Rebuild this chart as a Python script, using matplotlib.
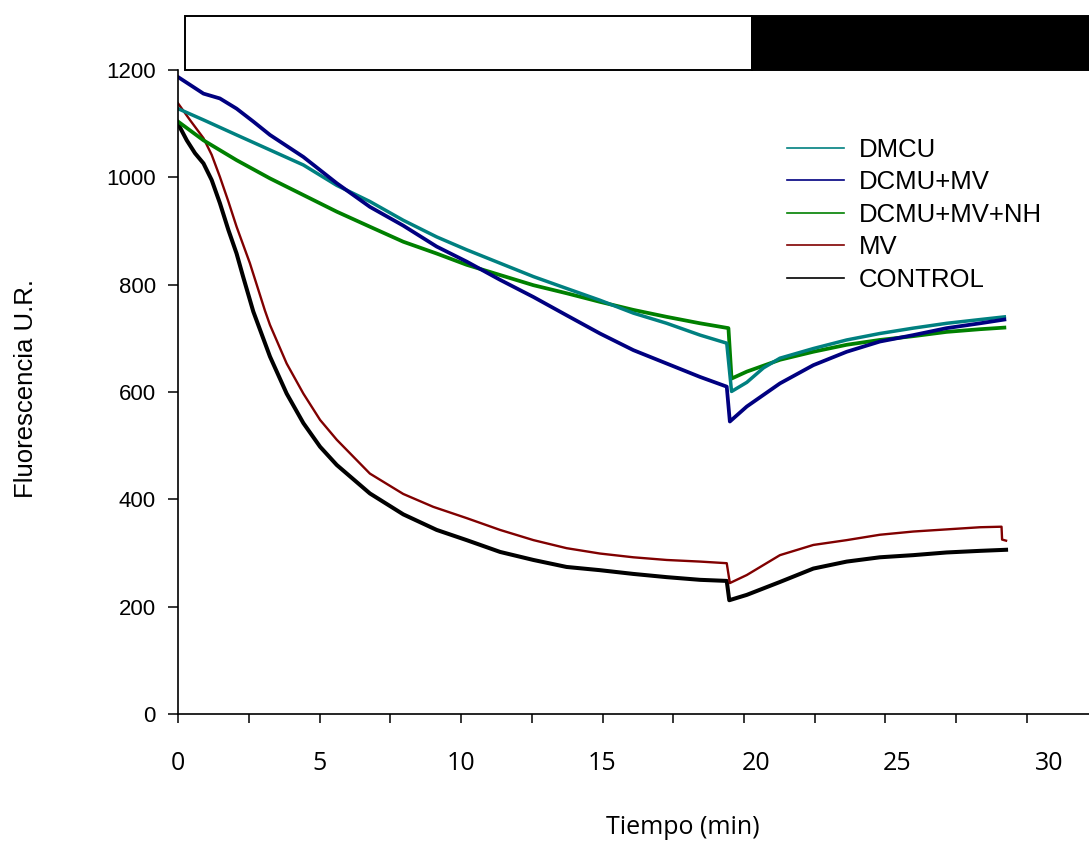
import matplotlib
matplotlib.use("Agg")
import matplotlib.pyplot as plt
from matplotlib.patches import Rectangle
from matplotlib.transforms import ScaledTranslation

# =====================================================
# Data
# =====================================================

dmcu_t = [0, 0.9, 2.07, 3.25, 4.43, 5.61, 6.78, 7.96, 9.14, 10.2, 11.38, 12.56,
          13.73, 14.91, 16.09, 17.27, 18.45, 19.39, 19.56, 20.1, 20.69, 21.27,
          22.45, 23.63, 24.8, 25.98, 27.16, 28.34, 29.2]
dmcu_v = [1128, 1107, 1079, 1051, 1023, 985, 955, 920, 889, 865, 840, 815,
          793, 771, 747, 728, 706, 691, 601, 618, 645, 663,
          681, 697, 709, 719, 728, 735, 740]

dcmu_mv_t = [0, 0.9, 1.48, 2.07, 2.66, 3.25, 4.43, 5.61, 6.78, 7.96, 9.14, 10.2,
             11.38, 12.56, 13.73, 14.91, 16.09, 17.27, 18.45, 19.39, 19.5, 20.1,
             21.27, 22.45, 23.63, 24.8, 25.98, 27.16, 28.34, 29.2]
dcmu_mv_v = [1187, 1156, 1147, 1128, 1104, 1079, 1038, 989, 945, 910, 871, 843,
             809, 777, 743, 709, 678, 653, 628, 610, 545, 573,
             616, 650, 675, 694, 706, 719, 728, 735]

dcmu_mv_nh_t = [0, 0.9, 2.07, 3.25, 4.43, 5.61, 6.78, 7.96, 9.14, 10.2, 11.38,
                12.56, 13.73, 14.91, 16.09, 17.27, 18.45, 19.45, 19.56, 20.1,
                21.27, 22.45, 23.63, 24.8, 25.98, 27.16, 28.34, 29.2]
dcmu_mv_nh_v = [1104, 1069, 1032, 998, 967, 936, 908, 880, 858, 837, 818,
                799, 784, 768, 753, 740, 728, 719, 625, 638,
                660, 675, 688, 697, 704, 712, 717, 720]

mv_t = [0, 0.42, 0.9, 1.19, 1.48, 1.78, 2.07, 2.54, 3.07, 3.25, 3.84, 4.43,
        5.02, 5.61, 6.78, 7.96, 9.02, 10.2, 11.38, 12.56, 13.73, 14.91, 16.09,
        17.27, 18.45, 19.39, 19.5, 20.1, 21.27, 22.45, 23.63, 24.8, 25.98,
        27.16, 28.34, 29.1, 29.12, 29.26]
mv_v = [1138, 1107, 1073, 1042, 1001, 955, 908, 840, 752, 725, 653, 597,
        548, 511, 448, 410, 386, 365, 343, 324, 309, 299, 292,
        287, 284, 281, 244, 259, 296, 315, 324, 334, 340,
        344, 348, 349, 325, 323]

control_t = [0, 0.31, 0.6, 0.9, 1.19, 1.48, 1.78, 2.07, 2.3, 2.66, 3.25, 3.84,
             4.43, 5.02, 5.61, 6.78, 7.96, 9.14, 10.2, 11.38, 12.56, 13.73,
             14.91, 16.09, 17.27, 18.45, 19.39, 19.48, 20.1, 21.27, 22.45,
             23.63, 24.8, 25.98, 27.16, 28.34, 29.26]
control_v = [1100, 1069, 1045, 1026, 995, 952, 902, 858, 815, 750, 666, 597,
             542, 498, 464, 411, 372, 343, 324, 302, 287, 274,
             268, 261, 255, 250, 248, 212, 222, 246, 271,
             284, 292, 296, 301, 304, 306]

labels = ["DMCU", "DCMU+MV", "DCMU+MV+NH", "MV", "CONTROL"]
colors = ["#008080", "#000080", "#008000", "#800000", "#000000"]

x_ticks = [0, 2.5, 5, 7.5, 10, 12.5, 15, 17.5, 20, 22.5, 25, 27.5, 30]
x_tick_labels = ["0", "", "5", "", "10", "", "15", "", "20", "", "25", "", "30"]
y_ticks = [0, 200, 400, 600, 800, 1000, 1200]

light_period = (0.25, 20.28)
dark_start = 20.28

# =====================================================
# Figure
# =====================================================

fig = plt.figure(figsize=(10.89, 8.44), dpi=100)

ax = fig.add_axes([178 / 1089, 130 / 844, 911 / 1089, 644 / 844])

series = [
    (dmcu_t, dmcu_v, 2.5),
    (dcmu_mv_t, dcmu_mv_v, 2.7),
    (dcmu_mv_nh_t, dcmu_mv_nh_v, 2.7),
    (mv_t, mv_v, 1.7),
    (control_t, control_v, 2.9),
]

order = [4, 3, 2, 0, 1]
lines = {}
for i in order:
    t, v, lw = series[i]
    lines[i], = ax.plot(t, v, color=colors[i], lw=lw, label=labels[i])

ax.set_xlim(0, 911 / 28.3)
ax.set_ylim(0, 1200)

for s in ["top", "right"]:
    ax.spines[s].set_visible(False)
for s in ["left", "bottom"]:
    ax.spines[s].set_linewidth(1.2)

ax.set_xticks(x_ticks)
ax.set_xticklabels(x_tick_labels, fontfamily="Open Sans", fontsize=18)
ax.set_yticks(y_ticks)
ax.set_yticklabels([str(v) for v in y_ticks], fontfamily="Liberation Sans", fontsize=16)

ax.tick_params(axis="x", direction="out", length=6.5, width=1.1, pad=20)
ax.tick_params(axis="y", direction="out", length=7, width=1.1, pad=9)

ax.set_xlabel("Tiempo (min)", fontfamily="Open Sans", fontsize=18, va="center")
ax.xaxis.set_label_coords((683 - 178) / 911, (714 - 828) / 644)

ax.set_ylabel("Fluorescencia U.R.", fontfamily="Liberation Sans", fontsize=18.5, va="center")
ax.yaxis.set_label_coords((26 - 178) / 911, (714 - 388) / 644)

# the last three x labels sit a little to the right of their ticks
label_shift = {"20": 12, "25": 12, "30": 22}
for lab in ax.get_xticklabels():
    if lab.get_text() in label_shift:
        dx = label_shift[lab.get_text()] / fig.dpi
        lab.set_transform(lab.get_transform() + ScaledTranslation(dx, 0, fig.dpi_scale_trans))

# =====================================================
# Light / dark bar on top
# =====================================================

ax.add_patch(Rectangle(
    (light_period[0], 1200), light_period[1] - light_period[0], 100,
    facecolor="white", edgecolor="black", lw=1.4, clip_on=False
))
ax.add_patch(Rectangle(
    (dark_start, 1200), 40, 100,
    facecolor="black", edgecolor="black", lw=1.4, clip_on=False
))

# =====================================================
# Legend
# =====================================================

handles = [lines[i] for i in range(5)]
leg = ax.legend(
    handles, labels,
    loc="upper left",
    bbox_to_anchor=(787 / 1089, 1 - 138 / 844),
    bbox_transform=fig.transFigure,
    frameon=False,
    prop={"family": "Liberation Sans", "size": 18.5},
    handlelength=2.2,
    handletextpad=0.6,
    labelspacing=0.33,
    borderpad=0,
    borderaxespad=0,
)
for h in leg.get_lines():
    h.set_linewidth(1.2)

fig.savefig("out.png", dpi=100)
